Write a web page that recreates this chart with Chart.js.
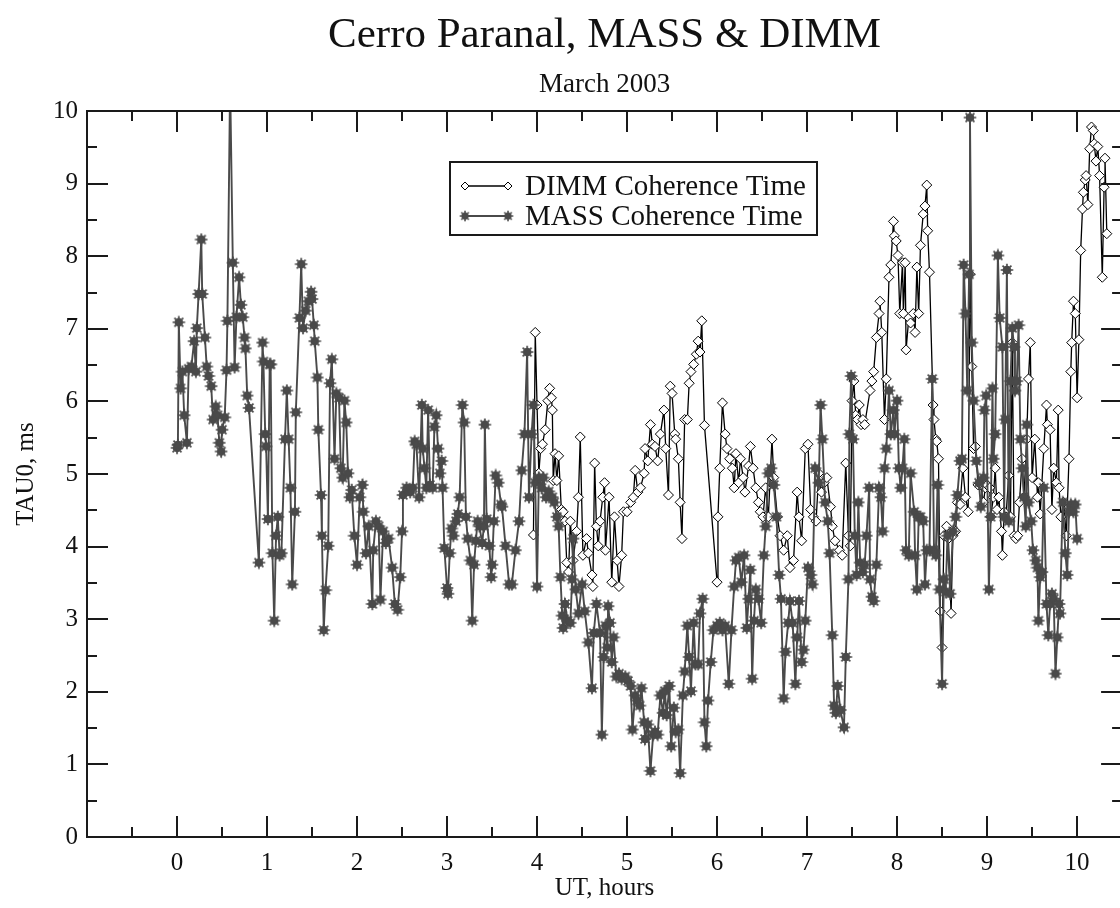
<!DOCTYPE html>
<html>
<head>
<meta charset="utf-8">
<title>Cerro Paranal, MASS &amp; DIMM</title>
<script src="https://cdn.jsdelivr.net/npm/chart.js@4.4.1/dist/chart.umd.min.js"></script>
<style>
  html, body { margin: 0; padding: 0; background: #fff; overflow: hidden; }
  #wrap { width: 1120px; height: 908px; overflow: hidden; }
</style>
</head>
<body>
<div id="wrap"><canvas id="tau" width="1130" height="908"></canvas></div>
<script>
// MASS coherence time, UT hours / ms
const massHours = [
  0.00, 0.01, 0.02, 0.04, 0.06, 0.08, 0.11, 0.13, 0.16, 0.19, 0.21, 0.22, 0.24, 0.27, 0.28, 0.31,
  0.33, 0.35, 0.38, 0.40, 0.43, 0.45, 0.47, 0.49, 0.50, 0.53, 0.55, 0.56, 0.59, 0.62, 0.64, 0.66,
  0.69, 0.71, 0.73, 0.75, 0.76, 0.78, 0.80, 0.91, 0.95, 0.96, 0.98, 0.99, 1.01, 1.03, 1.04, 1.06,
  1.08, 1.10, 1.12, 1.14, 1.16, 1.20, 1.22, 1.24, 1.26, 1.28, 1.31, 1.32, 1.36, 1.38, 1.40, 1.43,
  1.46, 1.49, 1.50, 1.52, 1.53, 1.56, 1.57, 1.60, 1.61, 1.63, 1.65, 1.68, 1.70, 1.72, 1.75, 1.77,
  1.80, 1.82, 1.84, 1.86, 1.88, 1.90, 1.92, 1.94, 1.97, 2.00, 2.03, 2.06, 2.07, 2.10, 2.13, 2.17,
  2.18, 2.21, 2.24, 2.26, 2.29, 2.32, 2.35, 2.39, 2.42, 2.45, 2.48, 2.50, 2.51, 2.55, 2.59, 2.62,
  2.64, 2.66, 2.69, 2.72, 2.73, 2.75, 2.77, 2.79, 2.81, 2.84, 2.86, 2.88, 2.90, 2.92, 2.94, 2.95,
  2.97, 3.00, 3.01, 3.03, 3.05, 3.07, 3.10, 3.12, 3.14, 3.17, 3.19, 3.21, 3.23, 3.26, 3.28, 3.30,
  3.32, 3.34, 3.36, 3.39, 3.41, 3.42, 3.44, 3.47, 3.49, 3.50, 3.52, 3.54, 3.57, 3.60, 3.61, 3.65,
  3.69, 3.72, 3.76, 3.80, 3.83, 3.86, 3.89, 3.91, 3.94, 3.96, 3.98, 4.00, 4.02, 4.05, 4.07, 4.10,
  4.13, 4.17, 4.19, 4.22, 4.24, 4.26, 4.28, 4.29, 4.31, 4.34, 4.37, 4.39, 4.40, 4.43, 4.46, 4.50,
  4.53, 4.57, 4.61, 4.63, 4.66, 4.70, 4.72, 4.74, 4.76, 4.78, 4.79, 4.81, 4.83, 4.85, 4.88, 4.91,
  4.94, 4.98, 5.01, 5.04, 5.06, 5.09, 5.11, 5.14, 5.16, 5.19, 5.20, 5.23, 5.26, 5.29, 5.31, 5.34,
  5.37, 5.40, 5.42, 5.44, 5.47, 5.49, 5.52, 5.54, 5.57, 5.59, 5.62, 5.64, 5.67, 5.69, 5.71, 5.74,
  5.76, 5.79, 5.81, 5.84, 5.86, 5.88, 5.90, 5.93, 5.96, 6.00, 6.03, 6.06, 6.09, 6.13, 6.16, 6.19,
  6.21, 6.24, 6.27, 6.30, 6.33, 6.35, 6.37, 6.39, 6.41, 6.43, 6.46, 6.49, 6.52, 6.54, 6.57, 6.60,
  6.63, 6.66, 6.69, 6.71, 6.74, 6.76, 6.79, 6.81, 6.84, 6.87, 6.89, 6.91, 6.94, 6.96, 6.98, 7.01,
  7.04, 7.06, 7.09, 7.13, 7.15, 7.17, 7.20, 7.23, 7.25, 7.28, 7.30, 7.32, 7.34, 7.37, 7.41, 7.43,
  7.46, 7.47, 7.49, 7.51, 7.53, 7.55, 7.57, 7.59, 7.62, 7.64, 7.66, 7.69, 7.70, 7.72, 7.74, 7.77,
  7.80, 7.82, 7.84, 7.86, 7.88, 7.91, 7.93, 7.96, 7.97, 8.00, 8.02, 8.04, 8.06, 8.08, 8.10, 8.13,
  8.15, 8.19, 8.20, 8.22, 8.24, 8.26, 8.29, 8.31, 8.33, 8.36, 8.39, 8.41, 8.43, 8.45, 8.47, 8.50,
  8.52, 8.54, 8.56, 8.59, 8.62, 8.65, 8.67, 8.70, 8.72, 8.74, 8.76, 8.78, 8.80, 8.81, 8.83, 8.85,
  8.88, 8.91, 8.93, 8.96, 8.97, 8.99, 9.02, 9.04, 9.06, 9.07, 9.09, 9.12, 9.14, 9.17, 9.19, 9.20,
  9.22, 9.24, 9.26, 9.28, 9.30, 9.31, 9.33, 9.35, 9.37, 9.39, 9.41, 9.43, 9.44, 9.46, 9.49, 9.51,
  9.54, 9.56, 9.57, 9.59, 9.61, 9.63, 9.66, 9.68, 9.70, 9.72, 9.74, 9.76, 9.78, 9.80, 9.81, 9.84,
  9.87, 9.89, 9.91, 9.93, 9.96, 9.98, 10.00
];
const massTau = [
  5.36, 5.40, 7.09, 6.18, 6.41, 5.81, 5.43, 6.45, 6.48, 6.83, 6.41, 7.01, 7.48, 8.23, 7.48, 6.88,
  6.48, 6.35, 6.21, 5.75, 5.93, 5.81, 5.43, 5.31, 5.61, 5.78, 6.43, 7.11, 10.40, 7.91, 6.47, 7.16,
  7.71, 7.33, 7.16, 6.88, 6.73, 6.08, 5.91, 3.78, 6.81, 6.55, 5.55, 5.38, 4.38, 6.51, 6.51, 3.91,
  2.98, 4.15, 4.41, 3.88, 3.91, 5.48, 6.15, 5.48, 4.81, 3.48, 4.48, 5.85, 7.15, 7.89, 7.01, 7.25,
  7.38, 7.51, 7.41, 7.05, 6.83, 6.33, 5.61, 4.71, 4.15, 2.85, 3.40, 4.01, 6.25, 6.58, 5.21, 6.11,
  6.05, 5.08, 4.95, 6.01, 5.71, 5.01, 4.68, 4.78, 4.15, 3.75, 4.68, 4.85, 4.48, 3.91, 4.28, 3.21,
  3.95, 4.35, 4.28, 3.27, 4.21, 4.05, 4.11, 3.71, 3.21, 3.13, 3.58, 4.21, 4.71, 4.81, 4.75, 4.81,
  5.45, 5.41, 4.68, 5.95, 5.35, 5.08, 4.81, 5.88, 4.85, 4.81, 5.65, 5.81, 5.35, 5.01, 5.18, 4.81,
  3.98, 3.43, 3.35, 3.91, 4.25, 4.15, 4.35, 4.45, 4.68, 5.95, 5.71, 4.41, 4.11, 3.81, 2.98, 3.75,
  4.08, 4.35, 4.28, 4.05, 4.28, 5.68, 4.38, 4.01, 3.58, 3.75, 4.35, 4.98, 4.88, 4.58, 4.55, 4.01,
  3.48, 3.48, 3.95, 4.35, 5.05, 5.55, 6.68, 4.68, 5.55, 5.95, 4.88, 3.45, 4.95, 4.81, 4.95, 4.68,
  4.76, 4.68, 4.61, 4.41, 4.28, 3.58, 3.05, 2.88, 3.21, 2.98, 2.95, 3.55, 4.11, 3.41, 3.08, 3.48,
  3.11, 2.68, 2.05, 2.81, 3.21, 2.81, 1.41, 2.48, 2.91, 2.61, 3.18, 2.95, 2.41, 2.75, 2.21, 2.25,
  2.18, 2.21, 2.15, 2.08, 1.48, 1.95, 1.88, 1.81, 2.05, 1.58, 1.35, 1.55, 0.91, 1.41, 1.45, 1.41,
  1.95, 1.71, 2.01, 1.68, 2.08, 1.25, 1.78, 1.45, 1.48, 0.88, 1.95, 2.28, 2.91, 2.48, 2.01, 2.95,
  2.38, 2.38, 3.08, 3.28, 1.58, 1.25, 1.88, 2.41, 2.85, 2.91, 2.95, 2.85, 2.91, 2.11, 2.85, 3.45,
  3.81, 3.85, 3.51, 3.88, 2.88, 3.28, 3.68, 2.18, 2.98, 3.41, 3.28, 2.95, 3.88, 4.28, 5.01, 5.08,
  4.85, 4.41, 3.61, 3.28, 1.91, 2.55, 2.95, 3.25, 2.95, 2.11, 2.75, 3.25, 2.41, 2.58, 2.98, 3.71,
  3.61, 3.48, 5.08, 4.88, 5.95, 5.48, 4.61, 4.35, 3.91, 2.78, 1.81, 1.71, 2.08, 1.75, 1.51, 2.48,
  3.55, 5.55, 6.35, 5.48, 4.15, 3.61, 4.61, 3.78, 3.65, 3.75, 4.15, 4.81, 3.55, 3.31, 3.25, 3.75,
  4.81, 4.68, 4.21, 5.08, 5.35, 6.15, 5.55, 5.88, 5.55, 6.01, 5.08, 4.81, 5.08, 5.48, 3.95, 3.88,
  5.01, 4.48, 3.88, 3.41, 4.41, 4.41, 4.35, 3.48, 3.95, 3.95, 6.31, 3.95, 3.88, 4.85, 3.41, 2.11,
  3.55, 3.38, 4.15, 3.35, 4.21, 4.41, 4.71, 5.18, 5.21, 7.88, 7.21, 6.15, 7.75, 9.91, 6.81, 6.01,
  5.18, 4.88, 4.55, 4.95, 5.88, 6.08, 3.41, 4.41, 6.18, 5.21, 5.55, 8.01, 7.15, 6.75, 4.41, 5.75,
  7.81, 4.35, 6.28, 7.01, 6.75, 6.15, 6.28, 7.05, 5.48, 5.08, 4.68, 4.28, 5.68, 4.61, 4.35, 3.95,
  3.81, 3.71, 2.98, 3.58, 3.65, 4.81, 3.21, 2.78, 3.21, 3.35, 3.28, 2.25, 2.75, 3.21, 3.08, 4.61,
  3.91, 3.61, 4.48, 4.58, 4.48, 4.58, 4.11
];

// DIMM coherence time, UT hours / ms
const dimmHours = [
  3.96, 3.98, 4.00, 4.02, 4.04, 4.06, 4.09, 4.12, 4.14, 4.16, 4.17, 4.18, 4.20, 4.22, 4.24, 4.27,
  4.29, 4.31, 4.33, 4.35, 4.37, 4.40, 4.44, 4.46, 4.48, 4.51, 4.55, 4.57, 4.61, 4.62, 4.64, 4.66,
  4.68, 4.70, 4.73, 4.75, 4.76, 4.80, 4.83, 4.86, 4.89, 4.91, 4.94, 4.96, 5.00, 5.04, 5.07, 5.09,
  5.12, 5.15, 5.19, 5.20, 5.23, 5.26, 5.28, 5.31, 5.34, 5.37, 5.41, 5.43, 5.46, 5.48, 5.50, 5.53,
  5.54, 5.57, 5.59, 5.61, 5.64, 5.67, 5.69, 5.71, 5.74, 5.77, 5.79, 5.81, 5.83, 5.86, 6.00, 6.01,
  6.03, 6.06, 6.09, 6.11, 6.14, 6.17, 6.19, 6.21, 6.24, 6.26, 6.29, 6.31, 6.35, 6.37, 6.40, 6.43,
  6.46, 6.48, 6.51, 6.54, 6.57, 6.61, 6.63, 6.67, 6.70, 6.74, 6.78, 6.81, 6.85, 6.89, 6.91, 6.94,
  6.98, 7.01, 7.04, 7.07, 7.10, 7.13, 7.16, 7.19, 7.22, 7.26, 7.28, 7.31, 7.36, 7.39, 7.43, 7.46,
  7.48, 7.50, 7.52, 7.54, 7.56, 7.58, 7.60, 7.62, 7.64, 7.70, 7.72, 7.74, 7.77, 7.80, 7.81, 7.83,
  7.86, 7.88, 7.91, 7.93, 7.96, 7.97, 7.99, 8.01, 8.03, 8.06, 8.07, 8.09, 8.10, 8.13, 8.15, 8.18,
  8.20, 8.22, 8.24, 8.26, 8.29, 8.31, 8.33, 8.34, 8.36, 8.40, 8.41, 8.43, 8.44, 8.46, 8.48, 8.50,
  8.52, 8.55, 8.57, 8.60, 8.62, 8.65, 8.67, 8.70, 8.73, 8.76, 8.79, 8.81, 8.83, 8.85, 8.87, 8.90,
  8.93, 8.96, 8.98, 9.00, 9.03, 9.04, 9.07, 9.09, 9.11, 9.13, 9.16, 9.17, 9.19, 9.21, 9.24, 9.26,
  9.28, 9.30, 9.32, 9.34, 9.36, 9.39, 9.41, 9.44, 9.46, 9.48, 9.50, 9.53, 9.56, 9.57, 9.59, 9.63,
  9.66, 9.67, 9.70, 9.72, 9.74, 9.77, 9.79, 9.80, 9.82, 9.85, 9.88, 9.91, 9.93, 9.94, 9.96, 9.98,
  10.00, 10.02, 10.04, 10.06, 10.07, 10.09, 10.10, 10.12, 10.14, 10.16, 10.18, 10.19, 10.21, 10.23,
  10.25, 10.28, 10.30, 10.31, 10.33
];
const dimmTau = [
  4.16, 6.95, 5.95, 5.01, 5.35, 5.41, 5.61, 6.01, 6.18, 6.05, 5.88, 4.91, 5.28, 4.91, 5.25, 4.51,
  4.48, 4.35, 3.78, 3.65, 4.35, 3.81, 4.21, 4.68, 5.51, 3.88, 4.11, 3.91, 3.61, 3.45, 5.15, 4.28,
  4.01, 4.35, 4.68, 4.88, 3.95, 4.68, 3.51, 4.41, 3.81, 3.45, 3.88, 4.48, 4.48, 4.61, 4.68, 5.05,
  4.75, 4.81, 5.01, 5.35, 5.18, 5.68, 5.41, 5.38, 5.18, 5.55, 5.88, 5.35, 4.71, 6.21, 6.11, 5.55,
  5.48, 5.21, 4.61, 4.11, 5.75, 5.75, 6.25, 6.41, 6.51, 6.65, 6.83, 6.68, 7.11, 5.67, 3.51, 4.41,
  5.08, 5.98, 5.55, 5.35, 5.21, 5.08, 4.81, 5.28, 4.88, 5.21, 4.95, 4.75, 5.11, 5.38, 5.08, 4.81,
  4.61, 4.48, 4.41, 4.81, 4.41, 5.48, 4.95, 4.41, 4.15, 3.95, 4.15, 3.71, 3.81, 4.75, 4.41, 4.08,
  5.35, 5.41, 4.51, 4.41, 4.35, 5.01, 4.75, 4.88, 4.95, 4.55, 4.28, 4.08, 3.95, 3.88, 5.15, 4.15,
  4.01, 6.01, 6.28, 5.81, 5.75, 5.95, 5.68, 5.75, 5.68, 6.15, 6.28, 6.41, 6.88, 7.21, 7.38, 6.95,
  5.75, 6.31, 7.71, 7.88, 8.48, 8.28, 8.21, 8.01, 7.21, 7.91, 7.21, 7.91, 6.71, 7.15, 7.08, 7.21,
  6.95, 7.85, 7.21, 8.15, 8.58, 8.69, 8.98, 8.35, 7.78, 5.95, 5.75, 5.48, 5.45, 5.21, 3.11, 2.61,
  4.15, 4.28, 4.11, 3.08, 4.15, 4.21, 4.61, 4.58, 5.08, 4.68, 4.48, 7.75, 6.48, 5.35, 5.38, 4.85,
  4.85, 4.61, 4.81, 4.85, 4.81, 4.41, 4.68, 5.08, 4.51, 4.68, 4.21, 3.88, 4.48, 4.41, 4.98, 4.41,
  6.81, 4.15, 4.11, 4.15, 4.61, 5.21, 4.68, 5.48, 6.31, 6.81, 4.95, 5.48, 4.68, 4.88, 4.45, 5.35,
  5.95, 5.68, 5.61, 4.51, 5.08, 4.88, 5.88, 4.81, 4.41, 4.61, 4.15, 5.21, 6.41, 6.81, 7.38, 7.21,
  6.05, 6.85, 8.08, 8.65, 8.88, 9.05, 9.11, 8.71, 9.48, 9.78, 9.73, 9.55, 9.31, 9.51,
  9.11, 7.71, 8.95, 9.35, 8.31
];

const seriesNames = ['DIMM Coherence Time', 'MASS Coherence Time'];

const serif = '"Liberation Serif", "DejaVu Serif", serif';
const ink = '#111';
const massGray = '#4a4a4a';

// filled gear-like star used by the MASS set
function starMarker(color) {
  const c = document.createElement('canvas');
  c.width = 14; c.height = 14;
  const g = c.getContext('2d');
  g.fillStyle = color;
  g.strokeStyle = color;
  g.lineWidth = 1.7;
  g.beginPath();
  g.arc(7, 7, 4.3, 0, Math.PI * 2);
  g.fill();
  g.beginPath();
  for (let k = 0; k < 8; k++) {
    const a = k * Math.PI / 4;
    g.moveTo(7, 7);
    g.lineTo(7 + 6.3 * Math.cos(a), 7 + 6.3 * Math.sin(a));
  }
  g.stroke();
  return c;
}
const star = starMarker(massGray);

const toPoints = (xs, ys) => xs.map((x, i) => ({ x: x, y: ys[i] }));

// frame, inward ticks, titles and the boxed legend
const decorations = {
  id: 'decorations',
  afterDraw(chart) {
    const { ctx, chartArea: a, scales: { x, y } } = chart;
    ctx.save();
    ctx.strokeStyle = '#1a1a1a';
    ctx.lineWidth = 2;
    ctx.strokeRect(a.left, a.top, a.right - a.left, a.bottom - a.top);

    ctx.beginPath();
    for (let v = -0.5; v < 10.5; v += 0.5) {
      const px = Math.round(x.getPixelForValue(v));
      const len = Number.isInteger(v) ? 21 : 10;
      ctx.moveTo(px, a.bottom); ctx.lineTo(px, a.bottom - len);
      ctx.moveTo(px, a.top); ctx.lineTo(px, a.top + len);
    }
    for (let v = 0.5; v < 10; v += 0.5) {
      const py = Math.round(y.getPixelForValue(v));
      const len = Number.isInteger(v) ? 21 : 10;
      ctx.moveTo(a.left, py); ctx.lineTo(a.left + len, py);
      ctx.moveTo(a.right, py); ctx.lineTo(a.right - len, py);
    }
    ctx.stroke();

    // titles
    const cx = (a.left + a.right) / 2;
    ctx.fillStyle = ink;
    ctx.textAlign = 'center';
    ctx.textBaseline = 'alphabetic';
    ctx.font = '43px ' + serif;
    ctx.fillText('Cerro Paranal, MASS & DIMM', cx, 47);
    ctx.font = '27px ' + serif;
    ctx.fillText('March 2003', cx, 92);

    // legend box
    ctx.fillStyle = '#fff';
    ctx.fillRect(450, 162, 367, 73);
    ctx.lineWidth = 2;
    ctx.strokeRect(450, 162, 367, 73);

    const rows = [186, 216];
    ctx.font = '29px ' + serif;
    ctx.textAlign = 'left';
    ctx.textBaseline = 'middle';
    rows.forEach((ry, i) => {
      ctx.beginPath();
      ctx.strokeStyle = i === 0 ? '#000' : massGray;
      ctx.lineWidth = i === 0 ? 1.3 : 1.8;
      ctx.moveTo(465, ry); ctx.lineTo(508, ry);
      ctx.stroke();
      [465, 508].forEach(sx => {
        if (i === 0) {
          ctx.beginPath();
          ctx.moveTo(sx, ry - 4); ctx.lineTo(sx + 4, ry);
          ctx.lineTo(sx, ry + 4); ctx.lineTo(sx - 4, ry);
          ctx.closePath();
          ctx.fillStyle = '#fff';
          ctx.fill();
          ctx.lineWidth = 1;
          ctx.strokeStyle = '#000';
          ctx.stroke();
        } else {
          ctx.drawImage(star, sx - 6, ry - 6, 12, 12);
        }
      });
      ctx.fillStyle = ink;
      ctx.fillText(seriesNames[i], 525, ry + 1);
    });
    ctx.restore();
  }
};

const tickFont = { family: serif, size: 25 };

new Chart(document.getElementById('tau'), {
  type: 'line',
  data: {
    datasets: [
      {
        label: seriesNames[1],
        data: toPoints(massHours, massTau),
        borderColor: massGray,
        borderWidth: 1.9,
        pointStyle: star,
        pointRadius: 6,
        tension: 0,
        fill: false
      },
      {
        label: seriesNames[0],
        data: toPoints(dimmHours, dimmTau),
        borderColor: '#000',
        borderWidth: 1.3,
        pointStyle: 'rectRot',
        pointRadius: 5,
        pointBackgroundColor: '#fff',
        pointBorderColor: '#000',
        pointBorderWidth: 1,
        tension: 0,
        fill: false
      }
    ]
  },
  options: {
    responsive: false,
    animation: false,
    devicePixelRatio: 1,
    layout: { padding: { top: 111, right: 5, bottom: 0, left: 0 } },
    plugins: {
      legend: { display: false },
      title: { display: false },
      tooltip: { enabled: false }
    },
    scales: {
      x: {
        type: 'linear',
        min: -1,
        max: 10.5,
        grid: { display: false, drawTicks: false },
        border: { display: false },
        ticks: {
          stepSize: 1,
          includeBounds: false,
          autoSkip: false,
          maxRotation: 0,
          padding: 11,
          color: ink,
          font: tickFont,
          callback: v => (v < 0 ? '' : v)
        },
        title: {
          display: true,
          text: 'UT, hours',
          color: ink,
          font: { family: serif, size: 25 },
          padding: { top: 0, bottom: 5 }
        },
        afterFit(s) { s.height = 71; }
      },
      y: {
        min: 0,
        max: 10,
        grid: { display: false, drawTicks: false },
        border: { display: false },
        ticks: { stepSize: 1, padding: 9, color: ink, font: tickFont },
        title: {
          display: true,
          text: 'TAU0, ms',
          color: ink,
          font: { family: serif, size: 25 },
          padding: { top: 11, bottom: 0 }
        },
        afterFit(s) { s.width = 87; }
      }
    }
  },
  plugins: [decorations]
});
</script>
</body>
</html>
